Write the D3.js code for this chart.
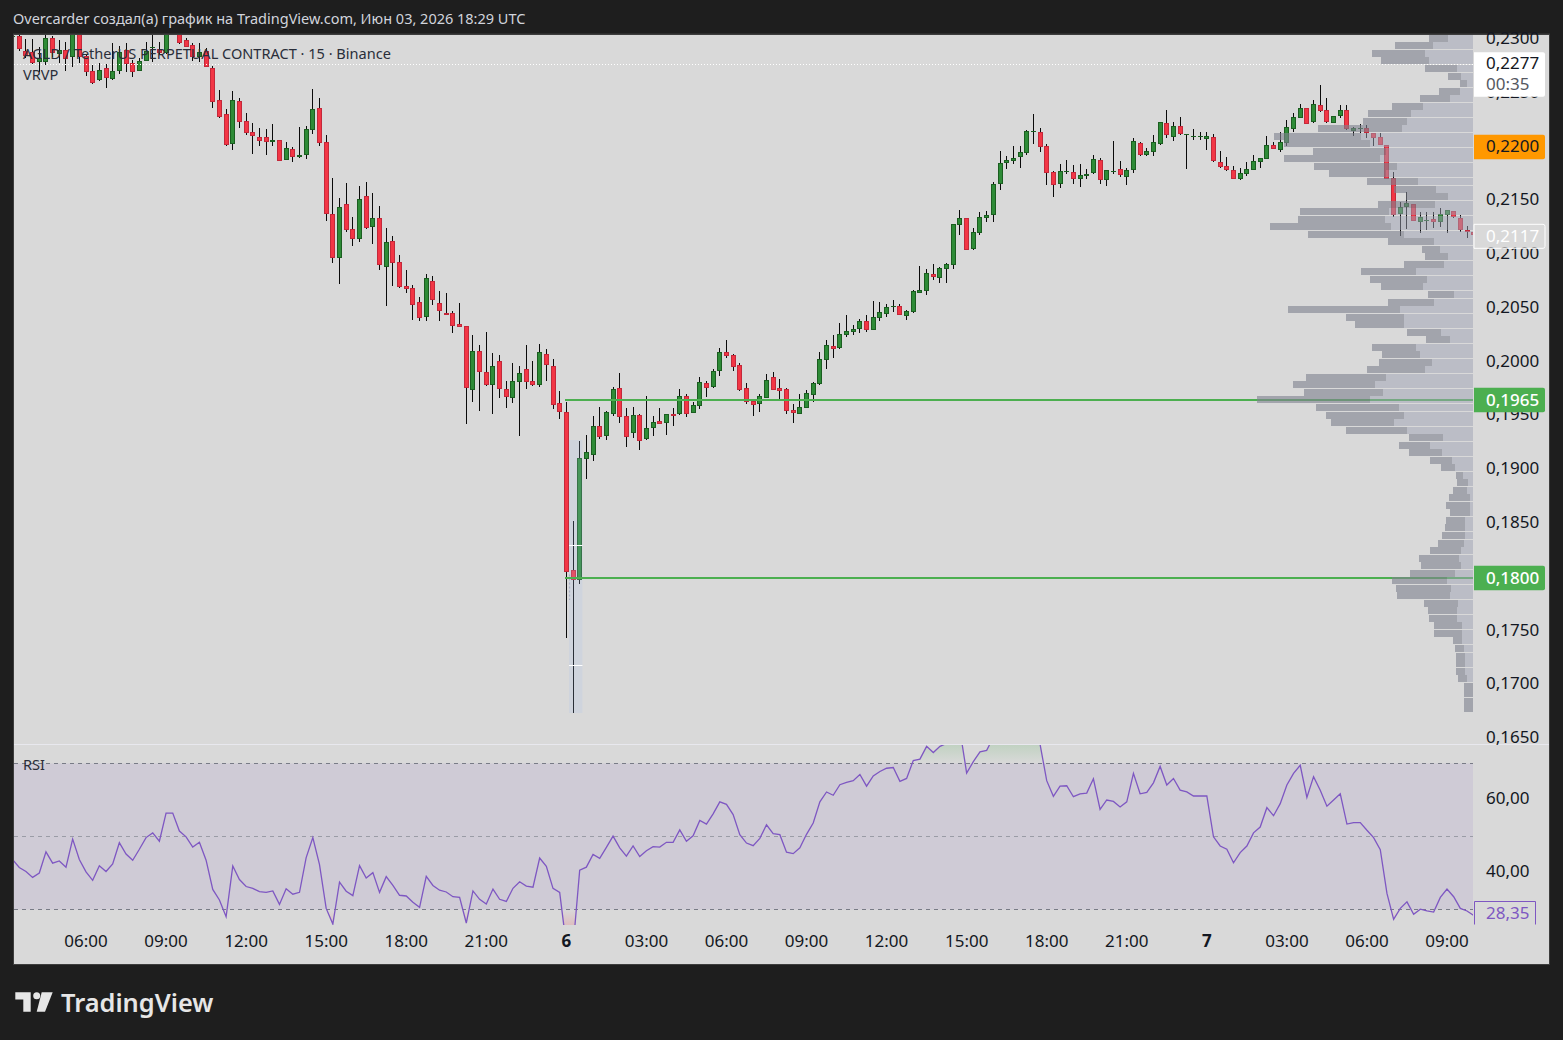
<!DOCTYPE html>
<html><head><meta charset="utf-8">
<script src="https://cdn.jsdelivr.net/npm/d3@7"></script>
<style>
html,body{margin:0;padding:0;background:#1e1e1e;overflow:hidden}
svg{display:block}
text{font-family:"Noto Sans",sans-serif}
</style></head><body>
<svg id="c" width="1563" height="1040"></svg>
<script>
const firstBar=-11;
const opens=[.23016,.23022,.22886,.22871,.22784,.22784,.23001,.22858,.22889,.22824,.23047,.22837,.22694,.2261,.22722,.22626,.227,.22892,.22768,.227,
.22793,.22908,.22902,.22861,.2314,.23063,.22985,.22936,.22824,.22883,.22722,.22424,.22294,.22022,.22415,.22229,.22127,.22081,.22081,.2204,
.22053,.21873,.21969,.21901,.21919,.22152,.2235,.22034,.21365,.20956,.21458,.21226,.21133,.21532,.21244,.21328,.20872,.21114,.20919,.20696,
.20677,.20547,.20408,.20742,.20538,.20445,.20445,.20343,.20324,.19735,.20092,.19897,.19776,.19999,.19738,.19655,.19804,.19924,.19813,.19782,.20064,
.19952,.19608,.19525,.18059,.17969,.19094,.19131,.19395,.19308,.19512,.19748,.19488,.19336,.19497,.1928,.19382,.19441,.19429,.19509,.19512,
.19673,.19521,.19587,.19794,.19763,.19912,.20082,.20054,.19961,.19748,.19627,.19605,.19661,.1985,.19748,.19738,.19543,.19512,.19568,.19689,
.19791,.20014,.20138,.20126,.20246,.20274,.20302,.2037,.20293,.20404,.20442,.20504,.2051,.20423,.2046,.20637,.20655,.20807,.20776,.2086,
.20897,.21269,.21327,.21042,.21194,.21334,.21361,.21649,.21845,.21863,.219,.21938,.2213,.22127,.21996,.21755,.2165,.21758,.21755,.21696,
.21724,.21752,.21866,.21687,.21758,.21783,.21715,.2178,.22024,.21919,.21947,.22021,.2221,.22086,.22182,.22105,.22083,.22086,.22068,.2208,
.21848,.21811,.21773,.21696,.21742,.2178,.21854,.21882,.22006,.21966,.22025,.22161,.22263,.2235,.22226,.22378,.22331,.22217,.22282,.22331,
.22142,.22161,.22164,.22118,.2208,.22006,.21699,.21368,.21436,.21461,.21297,.21306,.21318,.21297,.21362,.21393,.21331,.21219,.21204];
const highs=[.23078,.23063,.22991,.22991,.22923,.23032,.23022,.22985,.22964,.23078,.23078,.22846,.22753,.22768,.22762,.22954,.22929,.22954,.22799,.22815,
.22964,.23047,.22964,.23078,.2317,.23094,.23007,.2296,.2296,.22908,.22744,.22521,.22344,.22511,.22443,.22304,.22211,.22164,.22155,.22205,
.22053,.22034,.21991,.22177,.22186,.2253,.22446,.22102,.217,.21514,.21653,.2134,.21628,.21662,.21563,.21442,.21235,.21164,.20987,.20848,
.20705,.20597,.2081,.20789,.20652,.20634,.20467,.20541,.20324,.20243,.20147,.20268,.20076,.20054,.19816,.19983,.19955,.20147,.20002,.2016,
.2011,.2002,.19723,.19621,.18515,.19258,.19314,.19491,.19574,.19537,.1976,.1989,.19562,.19574,.19509,.19676,.1949,.19565,.19506,.19565,.19741,
.19695,.19624,.19853,.19816,.19927,.20119,.20197,.20067,.19983,.19797,.19627,.19692,.19881,.19896,.19834,.19751,.19602,.19692,.19729,.19806,
.20082,.20197,.20243,.20355,.20429,.20336,.20392,.20429,.20559,.2055,.20531,.20569,.20531,.20476,.20662,.20885,.20857,.20903,.20878,.20912,
.21272,.21405,.21327,.21234,.21386,.21395,.21662,.21953,.21907,.22,.22,.22148,.22297,.22167,.22015,.21767,.21832,.21869,.21823,.21832,
.21786,.21916,.21885,.21773,.22046,.2186,.21795,.22074,.22037,.21981,.22102,.2222,.22334,.22223,.22269,.22111,.22158,.2213,.2213,.22111,
.21953,.21897,.21814,.21795,.21851,.21916,.21885,.22093,.22037,.2213,.22242,.22307,.2239,.2235,.22424,.22567,.22443,.22276,.22381,.22381,
.22173,.22201,.22195,.22118,.22118,.22006,.21755,.21479,.21572,.21461,.21386,.21386,.21383,.21424,.21402,.21393,.21356,.21256,.21219];
const lows=[.22868,.22886,.22815,.22753,.22691,.22753,.2283,.22768,.227,.22737,.22775,.22651,.22576,.22604,.22542,.22613,.22669,.22691,.22644,.22697,
.22787,.22784,.22852,.22855,.23063,.22948,.22917,.22793,.22784,.22731,.22356,.22263,.22003,.21963,.22167,.22105,.21929,.22,.21916,.22,
.21864,.21867,.21851,.21892,.21879,.22112,.22,.21306,.20916,.20721,.21201,.21074,.21108,.21232,.21092,.20851,.20516,.20699,.20683,.20637,
.20386,.20377,.20377,.20525,.20377,.20433,.20265,.20321,.19419,.19624,.1954,.19773,.19512,.19661,.19568,.19615,.19308,.19745,.19773,.19763,
.19819,.19559,.19466,.1743,.16733,.17932,.18905,.19076,.1928,.19271,.19491,.19429,.19206,.19289,.19178,.19267,.19305,.19416,.19314,.19398,
.195,.19481,.19521,.19556,.19667,.19751,.19862,.2003,.19909,.19723,.19602,.1949,.19528,.19661,.19732,.19645,.19509,.19425,.19512,.19568,
.19621,.19779,.19927,.2003,.20113,.20225,.20243,.20262,.20271,.20293,.20373,.20411,.20457,.20432,.20383,.20448,.20637,.20615,.20754,.20727,.20727,
.20857,.21173,.21036,.21033,.21175,.21293,.21293,.21591,.21786,.21832,.21795,.21916,.22018,.21944,.21637,.21526,.21609,.21739,.21646,.21619,
.21693,.21739,.21646,.21628,.21739,.21711,.21637,.21749,.21907,.21907,.21907,.22009,.22074,.22046,.22102,.21786,.22055,.22055,.21962,.21851,
.21795,.21767,.21696,.21684,.21721,.2178,.21795,.21882,.21969,.21944,.22,.2213,.2226,.22201,.22214,.22316,.22214,.22214,.22263,.22149,
.22093,.22121,.22074,.22,.22006,.2169,.21343,.21163,.21228,.21306,.21194,.21219,.21238,.2125,.21194,.21331,.21198,.21145,.21126];
const closes=[.23022,.22902,.22837,.22775,.22815,.23001,.22868,.22889,.22809,.23063,.2283,.22691,.22589,.22703,.22635,.22694,.22877,.22765,.22691,.22787,
.22886,.22923,.22861,.23047,.23078,.2296,.22923,.2283,.22877,.22737,.22412,.22273,.22012,.22424,.22226,.22124,.22096,.2205,.2204,.22053,
.21864,.21978,.21901,.21913,.22155,.22341,.22031,.21371,.20962,.2143,.21222,.21133,.21504,.21241,.21328,.20897,.21105,.20909,.20693,.20674,
.20519,.20405,.2077,.20566,.20463,.20433,.2033,.20321,.19748,.20092,.19903,.19782,.19952,.19738,.1967,.19813,.19887,.1981,.19782,.20082,
.19962,.19596,.19525,.18044,.17969,.19097,.19153,.19395,.19299,.19525,.19738,.19484,.19299,.19497,.19261,.19376,.19432,.1942,.19506,.1949,.19673,
.19512,.1959,.19803,.19754,.19906,.20082,.20051,.19949,.19735,.19624,.19596,.19673,.19822,.19735,.19726,.1954,.19521,.19571,.19701,.19794,
.20017,.20147,.20116,.2025,.20278,.20296,.2037,.20293,.20408,.20454,.205,.2051,.20432,.20463,.20649,.20658,.20816,.20785,.20863,.209,
.21272,.21328,.21036,.21197,.21337,.21355,.21643,.21838,.21866,.21885,.21941,.22136,.22136,.21993,.21752,.2164,.21764,.21764,.21696,.21727,
.21736,.21876,.21687,.21773,.21764,.2173,.21773,.22043,.21919,.2195,.22034,.2222,.22105,.22182,.22114,.22111,.22093,.22093,.22089,.21863,
.21807,.2178,.21696,.21746,.21783,.21857,.21885,.22006,.21969,.22034,.22173,.22266,.2235,.22201,.22387,.22325,.22226,.22276,.22331,.22155,
.22167,.22167,.22118,.22077,.22009,.2169,.21359,.2143,.21467,.21306,.2134,.21312,.21297,.21365,.21402,.21343,.21219,.21198,.2117];
const rsiValues=[43.7,41.5,40.4,38.8,40,45.8,42.7,43.3,41.6,49.3,43.7,40.3,38,42,40.4,42.5,48.3,45.2,43.5,46.5,49.7,51,48.7,56.4,56.4,51.5,49.9,47.1,48.4,43.5,
35.5,32.6,28,41.9,38.2,36.3,35.8,34.9,34.7,35.1,31.4,35.7,34.2,34.7,44.2,49.7,42.3,30.3,26,37.5,35,33.8,42,38.6,40.1,34.7,39,36.6,33.9,33.7,
32,30.6,39.1,36.6,35.3,34.8,33.5,33.3,26.3,35.1,32.8,31.5,35.6,32.8,32.2,35.8,37.6,36.4,36.1,44.1,41.8,35.8,34.7,20,19.5,40.8,41.6,45.1,44,47,
50.1,46.9,44.6,47.4,44.5,46.1,47.2,47.1,48.4,48.4,51.8,48.7,50.2,54.4,53.4,56.2,59.5,58.8,56,50.5,48.2,47.5,49.5,53.2,50.8,50.5,45.7,45.3,46.9,50.6,
53.7,59.5,62.2,61.3,64.2,64.8,65.3,67,63.8,66.6,67.8,68.7,68.9,65.1,65.9,70.8,71.2,74.7,73,74.7,75.5,78.2,79.1,67.4,70.5,73.2,73.6,77.2,82,81,
80,80,81.5,80,75.3,65.3,61,63.8,63.9,60.9,61.7,61.9,65.8,57.4,60,59.6,58.1,59.5,67.3,61.7,62.1,64.7,69.2,64.1,65.9,62.7,62.2,61.1,61.1,61.1,
49.9,47.4,46.5,42.8,45.6,47.4,51,52.6,57.9,55.7,59,64.1,67.3,69.5,60.7,66.4,62.7,58.3,60,61.7,53.4,53.8,53.8,51.7,49.7,46.4,34.4,27.3,30.3,32.1,
28.7,30.1,29.6,29.3,33.3,35.6,33.5,30.3,29.6,28.35];
const vpTotal=[132,234,303,276,144,75,39,102,159,243,315,330,465,597,567,480,567,477,432,318,237,201,285,519,525,609,495,255,153,144,207,
336,309,276,135,255,555,381,354,198,141,303,273,282,318,501,540,507,648,471,441,426,381,192,222,192,129,96,51,48,60,72,
81,69,81,84,93,105,129,162,156,189,243,231,228,147,135,132,117,117,60,54,51,51,51,45,27,27,27,27];
const vpLight=[74,120,144,132,48,36,18,39,69,150,186,198,213,336,309,261,279,228,261,165,111,75,114,252,264,246,207,117,99,75,87,
171,138,150,57,117,219,207,207,96,69,171,159,123,144,261,294,270,309,222,207,237,198,90,129,93,63,54,30,15,18,9,
9,9,24,24,24,27,36,42,36,54,78,66,69,45,48,48,33,33,33,27,24,24,24,18,0,0,0,0];
const vpTopPrice=0.2300, vpStep=0.0007;
const priceTicks=[.23,.225,.22,.215,.21,.205,.2,.195,.19,.185,.18,.175,.17,.165];
const rsiTicks=[60,40];
const timeBars=[0,12,24,36,48,60,72,84,96,108,120,132,144,156,168,180,192,204];
const timeLabels=["06:00","09:00","12:00","15:00","18:00","21:00","6","03:00","06:00","09:00","12:00","15:00","18:00","21:00","7","03:00","06:00","09:00"];
const keyLevels=[0.1964,0.17985];
const lastPrice=0.2117, markPrice=0.2276, maPrice=0.22, lastRsi=28.35;

const svg=d3.select("#c");
const PL=14,PR=1473,PT=35,PB=744,FR=1549,FB=964;
const x=d3.scaleLinear().domain([0,204]).range([86,1447]);
const y=d3.scaleLinear().domain([0.165,0.23]).range([737.8,38.4]);
const yR=d3.scaleLinear().domain([30,70]).range([909.5,763.5]);
const vpX=d3.scaleLinear().domain([0,648]).range([0,216]);
const bars=d3.range(opens.length).map(i=>firstBar+i);

// frame
svg.append("rect").attr("x",13).attr("y",33.5).attr("width",FR-13+1).attr("height",FB-33.5+1).attr("fill","#3d3d3d");
svg.append("rect").attr("x",PL).attr("y",PT).attr("width",FR-PL).attr("height",FB-PT).attr("fill","#d9d9d9");
const defs=svg.append("defs");
defs.append("clipPath").attr("id","price").append("rect").attr("x",PL).attr("y",PT).attr("width",PR-PL).attr("height",PB-PT);
defs.append("clipPath").attr("id","rsiPane").append("rect").attr("x",PL).attr("y",745).attr("width",PR-PL).attr("height",180);
defs.append("clipPath").attr("id","above").append("rect").attr("x",PL).attr("y",745).attr("width",PR-PL).attr("height",yR(70)-745);
defs.append("clipPath").attr("id","below").append("rect").attr("x",PL).attr("y",yR(30)).attr("width",PR-PL).attr("height",925-yR(30));
const gg=defs.append("linearGradient").attr("id","gGreen").attr("gradientUnits","userSpaceOnUse").attr("x1",0).attr("x2",0).attr("y1",745).attr("y2",yR(70));
gg.append("stop").attr("offset",0).attr("stop-color","#4caf50").attr("stop-opacity",.17);
gg.append("stop").attr("offset",1).attr("stop-color","#4caf50").attr("stop-opacity",0);
const gr=defs.append("linearGradient").attr("id","gRed").attr("gradientUnits","userSpaceOnUse").attr("x1",0).attr("x2",0).attr("y1",yR(30)).attr("y2",925);
gr.append("stop").attr("offset",0).attr("stop-color","#f23645").attr("stop-opacity",0);
gr.append("stop").attr("offset",1).attr("stop-color","#f23645").attr("stop-opacity",.17);

// price pane
const pane=svg.append("g").attr("clip-path","url(#price)");
const cg=pane.append("g").attr("shape-rendering","crispEdges");
const row=cg.selectAll("g").data(bars).join("g");
const idx=k=>k-firstBar;
const topY=k=>Math.round(y(Math.max(opens[idx(k)],closes[idx(k)])));
const botY=k=>Math.max(Math.round(y(Math.min(opens[idx(k)],closes[idx(k)]))),topY(k)+1);
const isUp=k=>closes[idx(k)]>=opens[idx(k)];
row.append("rect").attr("x",k=>Math.floor(x(k))).attr("width",1)
  .attr("y",k=>y(highs[idx(k)])).attr("height",k=>y(lows[idx(k)])-y(highs[idx(k)])).attr("fill","#0a0a0a");
row.append("rect").attr("x",k=>Math.floor(x(k))-2).attr("width",5)
  .attr("y",topY).attr("height",k=>botY(k)-topY(k)).attr("fill",k=>isUp(k)?"#1b5e20":"#c4283a");
row.filter(k=>botY(k)-topY(k)>2).append("rect").attr("x",k=>Math.floor(x(k))-1).attr("width",3)
  .attr("y",k=>topY(k)+1).attr("height",k=>botY(k)-topY(k)-2).attr("fill",k=>isUp(k)?"#2e8b37":"#f23645");

// marked bar overlay
pane.append("rect").attr("x",x(73)-4).attr("width",13.4).attr("y",440).attr("height",273).attr("fill","rgba(172,197,242,.2)");
pane.append("line").attr("x1",x(73)-3.5).attr("x2",x(73)-3.5).attr("y1",y(0.18)-2).attr("y2",y(0.1778)).attr("stroke","#a9afc5").attr("stroke-width",1.2).attr("stroke-dasharray","2,2");
[0.18289,0.17177].forEach(p=>pane.append("line").attr("x1",x(73)-4).attr("x2",x(73)+9.4).attr("y1",Math.round(y(p))+.5).attr("y2",Math.round(y(p))+.5).attr("stroke","#fff"));

// lines
keyLevels.forEach(p=>pane.append("line").attr("x1",565).attr("x2",PR).attr("y1",y(p)).attr("y2",y(p)).attr("stroke","#4caf50").attr("stroke-width",2));
pane.append("line").attr("x1",PL).attr("x2",PR).attr("y1",Math.round(y(markPrice))+.5).attr("y2",Math.round(y(markPrice))+.5).attr("stroke","#fff").attr("stroke-dasharray","1,2");

// volume profile
const vpG=pane.append("g").attr("shape-rendering","crispEdges");
vpTotal.forEach((t,i)=>{
  const c=y(vpTopPrice-i*vpStep), h=7, w=vpX(t), l=vpX(vpLight[i]);
  vpG.append("rect").attr("x",PR-w).attr("width",w-l).attr("y",c-h/2).attr("height",h).attr("fill","rgba(127,130,143,.62)");
  if(l>0)vpG.append("rect").attr("x",PR-l).attr("width",l).attr("y",c-h/2).attr("height",h).attr("fill","rgba(157,161,179,.5)");
});

// legend
const leg=(t,px,py)=>svg.append("text").attr("x",px).attr("y",py).attr("fill","#2a2e39").attr("font-size",14.55).attr("dy",".35em").text(t);
leg("AGLD / TetherUS PERPETUAL CONTRACT · 15 · Binance",23,54);
leg("VRVP",23,74.5);
svg.append("rect").attr("x",PL).attr("y",744).attr("width",PR-PL+76).attr("height",1).attr("fill","#e8e8ee");

// RSI pane
const rp=svg.append("g").attr("clip-path","url(#rsiPane)");
rp.append("rect").attr("x",PL).attr("width",PR-PL).attr("y",yR(70)).attr("height",yR(30)-yR(70)).attr("fill","rgba(126,87,194,.11)");
const areaHi=d3.area().x((d,i)=>x(firstBar+i)).y0(yR(70)).y1(d=>yR(d));
const areaLo=d3.area().x((d,i)=>x(firstBar+i)).y0(yR(30)).y1(d=>yR(d));
rp.append("path").attr("clip-path","url(#above)").attr("d",areaHi(rsiValues)).attr("fill","url(#gGreen)");
rp.append("path").attr("clip-path","url(#below)").attr("d",areaLo(rsiValues)).attr("fill","url(#gRed)");
[[70,"#787b86"],[50,"#9a9ca6"],[30,"#787b86"]].forEach(([v,c])=>rp.append("line").attr("x1",PL).attr("x2",PR).attr("y1",Math.floor(yR(v))+.5).attr("y2",Math.floor(yR(v))+.5).attr("stroke",c).attr("stroke-dasharray","4,4"));
rp.append("path").attr("d",d3.line().x((d,i)=>x(firstBar+i)).y(d=>yR(d))(rsiValues)).attr("fill","none").attr("stroke","#7e57c2").attr("stroke-width",1.3);
leg("RSI",23,764.5);

// axes
const axisFont=g=>{g.select(".domain").remove();g.selectAll("text").attr("fill","#131722").attr("font-size",17).attr("font-family",'"Noto Sans",sans-serif');};
svg.append("g").attr("transform","translate(1486,-0.5)").call(d3.axisRight(y).tickValues(priceTicks).tickSize(0).tickPadding(0).tickFormat(d=>d.toFixed(4).replace(".",","))).call(axisFont);
svg.append("g").attr("transform","translate(1486,-2)").call(d3.axisRight(yR).tickValues(rsiTicks).tickSize(0).tickPadding(0).tickFormat(d=>d.toFixed(2).replace(".",","))).call(axisFont);
svg.append("g").attr("transform","translate(-0.5,935)").call(d3.axisBottom(x).tickValues(timeBars).tickSize(0).tickPadding(0).tickFormat((d,i)=>timeLabels[i])).call(axisFont)
  .selectAll("text").attr("font-weight",(d,i)=>timeLabels[i].length<2?700:400);

// price badges
const badge=(cy,h,fill,stroke)=>svg.append("path").attr("d",`M1474 ${cy-h/2}H1543a2 2 0 0 1 2 2V${cy+h/2-2}a2 2 0 0 1 -2 2H1474Z`).attr("fill",fill).attr("stroke",stroke||"none");
const btxt=(t,cy,col,w)=>svg.append("text").attr("x",1486).attr("y",cy).attr("dy",".35em").attr("fill",col).attr("font-size",17).attr("font-weight",w||400).text(t);
const fmt=d=>d.toFixed(4).replace(".",",");
badge(74.5,44.5,"#ffffff");
btxt("0,2277",63.5,"#131722");
btxt("00:35",84,"#555861");
badge(y(maPrice)+1,24.5,"#ff9800");
btxt(fmt(maPrice),y(maPrice)+.5,"#131722");
badge(y(lastPrice)+1,24,"rgba(217,217,217,.55)","#ffffff");
btxt(fmt(lastPrice),y(lastPrice)+1,"#ffffff");
[["0,1965",y(keyLevels[0])],["0,1800",y(keyLevels[1])]].forEach(([t,c])=>{badge(c,24.5,"#4caf50");btxt(t,c,"#ffffff",500);});
svg.append("path").attr("d","M1474.5 924.5V901.5H1535.5V924.5").attr("fill","#d9d9d9").attr("stroke","#7e57c2");
svg.append("text").attr("x",1486).attr("y",yR(lastRsi)-2.5).attr("dy",".35em").attr("fill","#7e57c2").attr("font-size",17).text(lastRsi.toFixed(2).replace(".",","));

// header
svg.append("text").attr("x",13).attr("y",19).attr("dy",".35em").attr("fill","#d1d4dc").attr("font-size",14.5).text("Overcarder создал(а) график на TradingView.com, Июн 03, 2026 18:29 UTC");

// logo
const lg=svg.append("g").attr("fill","#e6e6e6");
lg.append("path").attr("d","M15.3 992.3H30.7V1011.7H23.3V999.4H15.3Z");
lg.append("circle").attr("cx",36.7).attr("cy",995.7).attr("r",3.5);
lg.append("path").attr("d","M41.7 992.3H52.7L45 1011.7H36.7Z");
svg.append("text").attr("x",61).attr("y",1003).attr("dy",".35em").attr("fill","#e6e6e6").attr("font-size",25.4).attr("font-weight",600).text("TradingView");
</script>
</body></html>
